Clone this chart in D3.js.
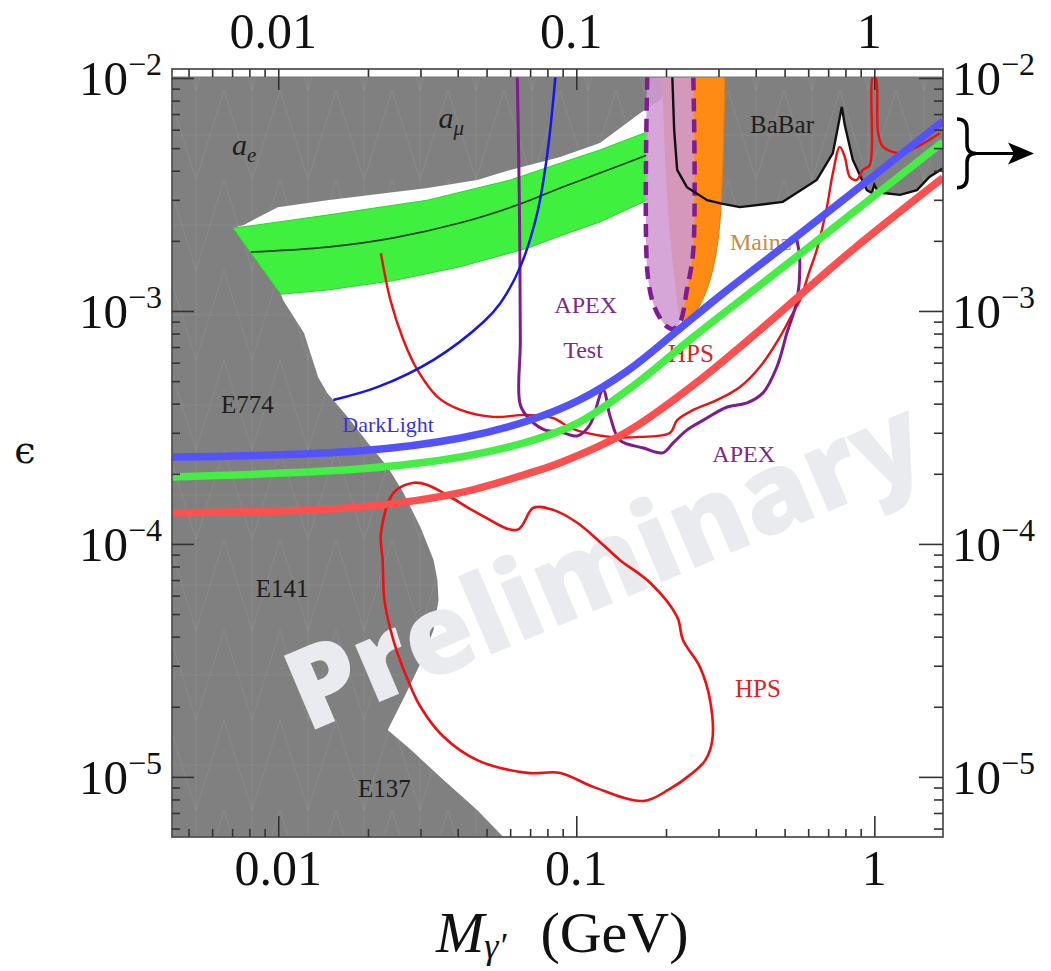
<!DOCTYPE html>
<html>
<head>
<meta charset="utf-8">
<script src="https://cdn.jsdelivr.net/npm/d3@7"></script>
<style>
html, body { margin: 0; padding: 0; background: #fff; }
svg text { font-family: "Liberation Serif", "Times New Roman", serif; }
</style>
</head>
<body>
<svg id="chart" width="1051" height="971"></svg>
<script>
// ---- data (mass in GeV, epsilon) ----
const xDomain = [0.0044, 1.70]
const yDomain = [5.52e-6, 1.01e-2]
const xTicks = [0.01, 0.1, 1]
const xTickLabels = ["0.01", "0.1", "1"]
const yTicks = [1e-2, 1e-3, 1e-4, 1e-5]
const yTickExps = ["−2", "−3", "−4", "−5"]

// edge of the excluded a_mu region (top left, under the white gap)
const amuEdge = [[0.00705,2.27e-3],[0.00766,2.34e-3],[0.00996,2.79e-3],[0.0146,2.99e-3],[0.0317,3.37e-3],[0.0465,3.65e-3],[0.0601,4.03e-3],[0.0883,4.58e-3],[0.120,5.26e-3],[0.164,7.08e-3],[0.191,8.05e-3]]
// BaBar limit
const babar = [[0.210,1.01e-2],[0.213,5.99e-3],[0.218,4.03e-3],[0.235,3.40e-3],[0.275,2.99e-3],[0.310,2.88e-3],[0.354,2.79e-3],[0.493,2.94e-3],[0.641,3.65e-3],[0.726,4.76e-3],[0.778,7.52e-3],[0.796,6.28e-3],[0.847,4.45e-3],[0.944,3.30e-3],[0.981,3.21e-3],[1.00,3.48e-3],[1.03,3.24e-3],[1.07,3.21e-3],[1.22,3.15e-3],[1.39,3.30e-3],[1.53,3.76e-3],[1.70,4.10e-3]]
// beam dump edge (E137 / E141 / E774), bottom to top
const beamDump = [[0.0569,5.52e-6],[0.0465,7.21e-6],[0.0358,9.71e-6],[0.0278,1.31e-5],[0.0233,1.59e-5],[0.0272,2.36e-5],[0.0307,3.27e-5],[0.0332,4.28e-5],[0.0345,5.75e-5],[0.0342,7.00e-5],[0.0332,8.54e-5],[0.0300,1.18e-4],[0.0263,1.66e-4],[0.0233,2.14e-4],[0.0200,2.71e-4],[0.0171,3.51e-4],[0.0146,4.45e-4],[0.0136,5.21e-4],[0.0122,8.05e-4],[0.0104,1.11e-3],[0.0102,1.18e-3]]

// g-2 favoured band
const g2Upper = [[0.00705,2.27e-3],[0.00809,2.32e-3],[0.0146,2.58e-3],[0.0317,2.99e-3],[0.0601,3.65e-3],[0.0883,4.31e-3],[0.120,4.91e-3],[0.173,5.87e-3]]
const g2Lower = [[0.0102,1.18e-3],[0.0146,1.23e-3],[0.0244,1.35e-3],[0.0409,1.55e-3],[0.0685,1.86e-3],[0.0883,2.10e-3],[0.120,2.41e-3],[0.173,2.99e-3]]
const g2Central = [[0.00809,1.79e-3],[0.0146,1.88e-3],[0.0244,2.06e-3],[0.0409,2.39e-3],[0.0634,2.85e-3],[0.0883,3.37e-3],[0.120,3.91e-3],[0.173,4.67e-3]]

// Mainz and APEX test run
const mainz = [[0.195,1.01e-2],[0.203,2.99e-3],[0.215,1.36e-3],[0.228,8.97e-4],[0.241,9.33e-4],[0.260,1.06e-3],[0.281,1.36e-3],[0.299,2.02e-3],[0.310,4.03e-3],[0.315,1.01e-2]]
const apexTest = [[0.173,1.01e-2],[0.173,1.50e-3],[0.181,1.08e-3],[0.191,9.33e-4],[0.202,8.54e-4],[0.211,8.37e-4],[0.223,8.97e-4],[0.235,1.23e-3],[0.247,1.83e-3],[0.247,1.01e-2]]

// projected reaches
const darkLight = [[0.0153,4.15e-4],[0.0216,4.72e-4],[0.0332,6.17e-4],[0.0488,8.97e-4],[0.0556,1.08e-3],[0.0649,1.55e-3],[0.0740,2.64e-3],[0.0800,4.76e-3],[0.0851,1.01e-2]]
const apex = [[0.0634,1.01e-2],[0.0644,2.99e-3],[0.0649,7.51e-4],[0.0649,3.95e-4],[0.0702,3.40e-4],[0.0787,3.08e-4],[0.0883,3.03e-4],[0.101,2.91e-4],[0.111,3.24e-4],[0.123,4.58e-4],[0.130,3.51e-4],[0.140,2.79e-4],[0.168,2.58e-4],[0.195,2.46e-4],[0.211,2.71e-4],[0.235,3.08e-4],[0.267,3.40e-4],[0.321,3.87e-4],[0.374,4.03e-4],[0.423,4.45e-4],[0.471,5.75e-4],[0.509,8.05e-4],[0.550,1.11e-3],[0.562,1.66e-3],[0.550,2.02e-3]]
const hpsUpper = [[0.0221,1.77e-3],[0.0238,1.11e-3],[0.0263,7.51e-4],[0.0293,5.58e-4],[0.0342,4.28e-4],[0.0409,3.76e-4],[0.0527,3.51e-4],[0.0685,3.58e-4],[0.0837,3.47e-4],[0.0955,3.15e-4],[0.109,2.99e-4],[0.130,2.88e-4],[0.164,2.88e-4],[0.206,2.99e-4],[0.218,3.40e-4],[0.247,3.76e-4],[0.297,4.15e-4],[0.354,4.72e-4],[0.413,5.75e-4],[0.482,7.73e-4],[0.533,9.80e-4],[0.562,1.11e-3],[0.608,1.50e-3],[0.641,1.83e-3],[0.693,2.79e-3],[0.726,3.91e-3],[0.766,5.06e-3],[0.796,4.58e-3],[0.828,3.76e-3],[0.873,3.65e-3],[0.915,4.03e-3],[0.966,4.24e-3],[0.988,1.01e-2],[1.01,1.01e-2],[1.03,5.81e-3],[1.07,5.06e-3],[1.22,4.76e-3],[1.39,5.06e-3],[1.66,5.81e-3]]
const hpsLower = [[0.168,7.88e-6],[0.114,9.06e-6],[0.0883,1.04e-5],[0.0685,1.04e-5],[0.0465,1.18e-5],[0.0358,1.49e-5],[0.0300,2.00e-5],[0.0272,2.61e-5],[0.0251,3.41e-5],[0.0238,4.28e-5],[0.0227,5.75e-5],[0.0224,8.54e-5],[0.0221,1.11e-4],[0.0244,1.66e-4],[0.0285,1.83e-4],[0.0317,1.79e-4],[0.0378,1.59e-4],[0.0465,1.36e-4],[0.0634,1.15e-4],[0.0718,1.43e-4],[0.0837,1.40e-4],[0.101,1.23e-4],[0.120,1.02e-4],[0.140,8.54e-5],[0.177,6.81e-5],[0.218,4.86e-5],[0.228,3.87e-5],[0.260,2.96e-5],[0.281,2.14e-5],[0.286,1.44e-5],[0.271,1.18e-5],[0.241,1.02e-5],[0.206,8.88e-6]]

// new projection curves
const projBlue = [[0.0044,2.36e-4],[0.0189,2.51e-4],[0.0409,2.85e-4],[0.0685,3.37e-4],[0.101,4.11e-4],[0.148,5.52e-4],[0.218,8.21e-4],[0.303,1.16e-3],[0.562,2.14e-3],[0.966,3.69e-3],[1.70,6.53e-3]]
const projGreen = [[0.0044,1.94e-4],[0.0189,2.10e-4],[0.0409,2.36e-4],[0.0685,2.74e-4],[0.101,3.30e-4],[0.155,4.76e-4],[0.247,7.73e-4],[0.413,1.29e-3],[0.828,2.58e-3],[1.70,5.31e-3]]
const projRed = [[0.0044,1.36e-4],[0.0189,1.44e-4],[0.0409,1.66e-4],[0.0685,2.00e-4],[0.0883,2.23e-4],[0.148,3.03e-4],[0.247,4.81e-4],[0.413,8.28e-4],[0.828,1.79e-3],[1.70,3.73e-3]]

const labelTexts = ["E774", "E141", "E137", "BaBar", "Mainz", "APEX", "Test", "HPS", "DarkLight", "APEX", "HPS"]
const labelKinds = ["dark", "dark", "dark", "dark", "mainz", "apex", "apex", "hps", "dl", "apex", "hps"]
const labelAt = [[0.00642,3.65e-4],[0.00841,5.93e-5],[0.0185,8.21e-6],[0.383,5.81e-3],[0.328,1.83e-3],[0.0844,9.80e-4],[0.0904,6.28e-4],[0.203,6.04e-4],[0.0164,3.03e-4],[0.286,2.25e-4],[0.341,2.20e-5]]
const anomalyLabels = [["a", "e", 0.00700, 4.67e-3], ["a", "μ", 0.0345, 6.10e-3]]

// ---- drawing ----
const pLeft = 172, pRight = 943, pTop = 77, pBottom = 837, frameTop = 69

const svg = d3.select("#chart")
const x = d3.scaleLog().domain(xDomain).range([pLeft, pRight])
const y = d3.scaleLog().domain(yDomain).range([pBottom, pTop])

const line = d3.line().x(d => x(d[0])).y(d => y(d[1]))
const smooth = d3.line().x(d => x(d[0])).y(d => y(d[1])).curve(d3.curveCatmullRom.alpha(0.5))

const defs = svg.append("defs")
defs.append("clipPath").attr("id", "plotclip")
    .append("rect").attr("x", pLeft).attr("y", pTop).attr("width", pRight - pLeft).attr("height", pBottom - pTop)

// faint hatching seen on the excluded region
const pat = defs.append("pattern").attr("id", "hatch")
    .attr("patternUnits", "userSpaceOnUse").attr("width", 56).attr("height", 90)
pat.append("path").attr("d", "M0,0 L28,90 M28,90 L56,0 M0,45 L56,45 M28,0 L28,90")
    .attr("stroke", "#a8a8a8").attr("stroke-width", 0.8).attr("fill", "none").attr("opacity", 0.3)

const plot = svg.append("g").attr("clip-path", "url(#plotclip)")

plot.append("rect").attr("x", pLeft).attr("y", pTop).attr("width", pRight - pLeft).attr("height", pBottom - pTop)
    .attr("fill", "#808080")
plot.append("rect").attr("x", pLeft).attr("y", pTop).attr("width", pRight - pLeft).attr("height", pBottom - pTop)
    .attr("fill", "url(#hatch)")

// allowed (white) region
const allowed = amuEdge.concat(babar, [[xDomain[1], yDomain[0]]], beamDump)
plot.append("path").attr("d", line(allowed) + "Z").attr("fill", "#fff")

// watermark
plot.append("text")
    .attr("transform", "translate(620,600) rotate(-23)")
    .attr("text-anchor", "middle")
    .style("font-family", "'Open Sans', 'DejaVu Sans', sans-serif")
    .style("font-weight", 800)
    .style("font-size", "112px")
    .attr("fill", "#e9ebef")
    .text("Preliminary")

// g-2 band
plot.append("path").attr("d", line(g2Upper.concat(g2Lower.slice().reverse())) + "Z")
    .attr("fill", "#3ff03f").attr("stroke", "#2fd22f").attr("stroke-width", 1)
plot.append("path").attr("d", smooth(g2Central)).attr("fill", "none")
    .attr("stroke", "#0d3d0d").attr("stroke-width", 1.6)

// Mainz, APEX test
plot.append("path").attr("d", smooth(mainz)).attr("fill", "#ff8a14").attr("stroke", "#f07800").attr("stroke-width", 1)
plot.append("path").attr("d", smooth(apexTest)).attr("fill", "#cf9ad2").attr("fill-opacity", 0.88)
    .attr("stroke", "#7d1d90").attr("stroke-width", 4.5).attr("stroke-dasharray", "13 8")

// BaBar
plot.append("path").attr("d", line(babar)).attr("fill", "none").attr("stroke", "#111").attr("stroke-width", 2.4)

// labels
const labelColor = { dark: "#1e1e1e", mainz: "#c98a45", apex: "#7b2a8c", hps: "#d42626", dl: "#3535d8" }
const labelSize = { dark: 25, mainz: 24, apex: 24, hps: 25, dl: 22 }
labelTexts.forEach((t, i) => {
    plot.append("text")
        .attr("x", x(labelAt[i][0])).attr("y", y(labelAt[i][1]))
        .attr("fill", labelColor[labelKinds[i]])
        .style("font-size", labelSize[labelKinds[i]] + "px")
        .text(t)
})
anomalyLabels.forEach(a => {
    const t = plot.append("text").attr("x", x(a[2])).attr("y", y(a[3]))
        .attr("fill", "#1e1e1e").style("font-size", "30px").style("font-style", "italic")
    t.append("tspan").text(a[0])
    t.append("tspan").attr("dy", 7).style("font-size", "21px").text(a[1])
})

// thin curves
plot.append("path").attr("d", smooth(hpsUpper)).attr("fill", "none").attr("stroke", "#ee1010").attr("stroke-width", 2.4)
plot.append("path").attr("d", d3.line().x(d => x(d[0])).y(d => y(d[1])).curve(d3.curveCatmullRomClosed.alpha(0.5))(hpsLower))
    .attr("fill", "none").attr("stroke", "#ee1010").attr("stroke-width", 2.6)
plot.append("path").attr("d", smooth(apex)).attr("fill", "none").attr("stroke", "#7e1c8e").attr("stroke-width", 3)
plot.append("path").attr("d", smooth(darkLight)).attr("fill", "none").attr("stroke", "#1515e6").attr("stroke-width", 2.5)

// thick projection curves
;[[projRed, "#ff4f4f"], [projGreen, "#44ee44"], [projBlue, "#5252ff"]].forEach(p => {
    plot.append("path").attr("d", smooth(p[0])).attr("fill", "none")
        .attr("stroke", p[1]).attr("stroke-width", 7.5).attr("stroke-linecap", "butt")
})

// frame
svg.append("rect").attr("x", pLeft).attr("y", frameTop).attr("width", pRight - pLeft).attr("height", pBottom - frameTop)
    .attr("fill", "none").attr("stroke", "#555").attr("stroke-width", 1.8)
svg.append("line").attr("x1", pLeft).attr("x2", pRight).attr("y1", pTop).attr("y2", pTop)
    .attr("stroke", "#777").attr("stroke-width", 1)

// axes: major and minor ticks, all pointing inward
const minorX = [], minorY = []
for (let k = -3; k <= 0; k++) for (let d = 2; d <= 9; d++) {
    const v = d * Math.pow(10, k)
    if (v > xDomain[0] && v < xDomain[1]) minorX.push(v)
}
for (let k = -6; k <= -2; k++) for (let d = 2; d <= 9; d++) {
    const v = d * Math.pow(10, k)
    if (v > yDomain[0] && v < yDomain[1]) minorY.push(v)
}
function addAxis(maker, pos, values, size) {
    const g = svg.append("g").attr("transform", pos)
        .call(maker.tickValues(values).tickSize(size).tickFormat(""))
    g.select(".domain").remove()
    g.selectAll(".tick line").attr("stroke", "#333").attr("stroke-width", 1.6)
}
addAxis(d3.axisBottom(x), `translate(0,${pBottom})`, xTicks, -21)
addAxis(d3.axisBottom(x), `translate(0,${pBottom})`, minorX, -8)
addAxis(d3.axisTop(x), `translate(0,${frameTop})`, xTicks, -21)
addAxis(d3.axisTop(x), `translate(0,${frameTop})`, minorX, -8)
addAxis(d3.axisLeft(y), `translate(${pLeft},0)`, yTicks, -22)
addAxis(d3.axisLeft(y), `translate(${pLeft},0)`, minorY, -8)
addAxis(d3.axisRight(y), `translate(${pRight},0)`, yTicks, -24)
addAxis(d3.axisRight(y), `translate(${pRight},0)`, minorY, -9)

// tick labels
xTicks.forEach((v, i) => {
    svg.append("text").attr("x", x(v)).attr("y", 885).attr("text-anchor", "middle")
        .style("font-size", "50px").attr("fill", "#111").text(xTickLabels[i])
    svg.append("text").attr("x", x(v) - 5).attr("y", 48).attr("text-anchor", "middle")
        .style("font-size", "50px").attr("fill", "#111").text(xTickLabels[i])
})
yTicks.forEach((v, i) => {
    const tl = svg.append("text").attr("x", 162).attr("y", y(v) + 17).attr("text-anchor", "end")
        .style("font-size", "49px").attr("fill", "#111")
    tl.append("tspan").text("10")
    tl.append("tspan").attr("dy", -20).style("font-size", "32px").text(yTickExps[i])
    const tr = svg.append("text").attr("x", 952).attr("y", y(v) + 17)
        .style("font-size", "49px").attr("fill", "#111")
    tr.append("tspan").text("10")
    tr.append("tspan").attr("dy", -20).style("font-size", "32px").text(yTickExps[i])
})

// axis titles
svg.append("text").attr("x", 25).attr("y", 463).attr("text-anchor", "middle")
    .style("font-family", "'DejaVu Serif', serif").style("font-size", "38px").attr("fill", "#111").text("ϵ")
const xt = svg.append("text").attr("x", 436).attr("y", 952).style("font-size", "58px").attr("fill", "#111")
xt.append("tspan").style("font-style", "italic").text("M")
xt.append("tspan").attr("dy", 6).style("font-size", "36px").style("font-style", "italic").text("γ′")
xt.append("tspan").attr("dy", -6).attr("dx", 34).text("(GeV)")

// brace + arrow pointing at the right ends of the projection curves
const bTop = y(projBlue[projBlue.length - 1][1]) - 2
const bBot = y(projRed[projRed.length - 1][1]) + 10
const bMid = (bTop + bBot) / 2
svg.append("path")
    .attr("d", `M957,${bTop} Q967,${bTop} 967,${bTop + 10} L967,${bMid - 9} Q967,${bMid} 976,${bMid} Q967,${bMid} 967,${bMid + 9} L967,${bBot - 10} Q967,${bBot} 957,${bBot}`)
    .attr("fill", "none").attr("stroke", "#000").attr("stroke-width", 3.5)
svg.append("line").attr("x1", 976).attr("x2", 1020).attr("y1", bMid).attr("y2", bMid)
    .attr("stroke", "#000").attr("stroke-width", 3)
svg.append("path").attr("d", `M1034,${bMid} L1008,${bMid - 11} L1014,${bMid} L1008,${bMid + 11} Z`).attr("fill", "#000")
</script>
</body>
</html>
